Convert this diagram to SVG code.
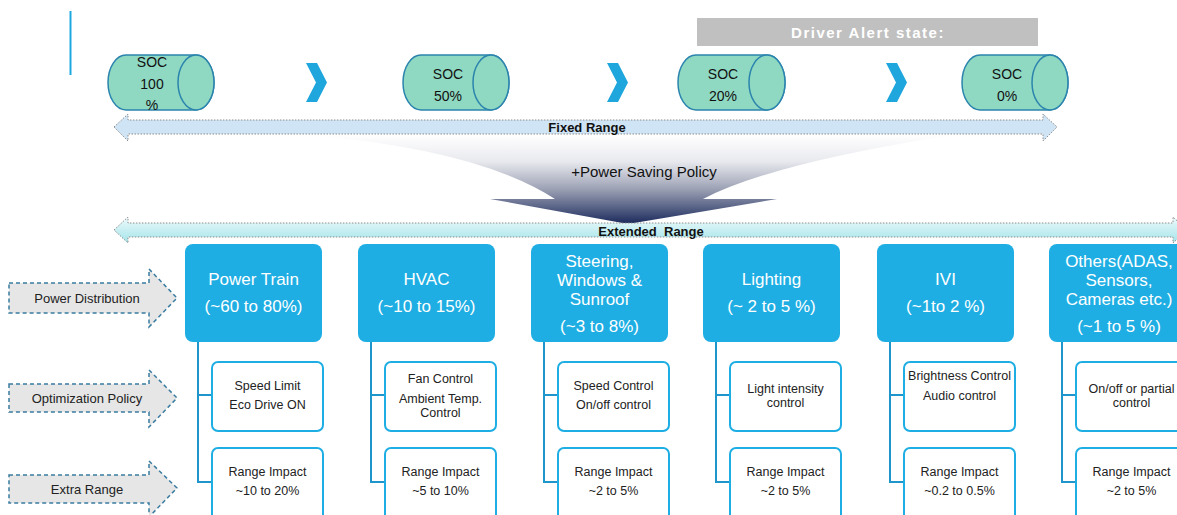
<svg xmlns="http://www.w3.org/2000/svg" width="1177" height="515" viewBox="0 0 1177 515">
<style>
.cyl{fill:#8fd8c2;stroke:#2b84ad;stroke-width:1.5}
.cylt{font-family:"Liberation Sans",Arial,sans-serif;font-size:14px;fill:#111;text-anchor:middle}
.chev{fill:#1fa6dd}
.main{fill:#1eaee3}
.maint{font-family:"Liberation Sans",Arial,sans-serif;font-size:17px;fill:#fff;text-anchor:middle}
.sub{fill:#fff;stroke:#1eaee3;stroke-width:2}
.subt{font-family:"Liberation Sans",Arial,sans-serif;font-size:12.5px;fill:#222;text-anchor:middle}
.conn{fill:none;stroke:#1e96cc;stroke-width:2}
.lab{fill:#e6e6e6;stroke:#3a7ca0;stroke-width:1.5;stroke-dasharray:4 3}
.labt{font-family:"Liberation Sans",Arial,sans-serif;font-size:13px;fill:#222;text-anchor:middle}
.rng{stroke:#8c8c8c;stroke-width:1;stroke-dasharray:1.5 1.5}
.rngt{font-family:"Liberation Sans",Arial,sans-serif;font-size:13px;font-weight:bold;fill:#111;text-anchor:middle}
</style>
<defs>
<linearGradient id="funnel" x1="0" y1="135" x2="0" y2="224" gradientUnits="userSpaceOnUse">
<stop offset="0" stop-color="#ffffff"/>
<stop offset="0.3" stop-color="#e8e9ee"/>
<stop offset="0.6" stop-color="#9ea3b6"/>
<stop offset="1" stop-color="#1b2a5c"/>
</linearGradient>
<linearGradient id="ext" x1="0" y1="0" x2="0" y2="1">
<stop offset="0" stop-color="#eefafb"/>
<stop offset="1" stop-color="#a2e4ea"/>
</linearGradient>
</defs>

<line x1="70.5" y1="11" x2="70.5" y2="75" stroke="#1ea8e0" stroke-width="2"/>

<g id="driver-alert">
<rect x="697" y="18" width="341" height="28" fill="#c0c0c0"/>
<text x="868" y="38" font-family="Liberation Sans,Arial,sans-serif" font-size="15" font-weight="bold" letter-spacing="1.5" fill="#fff" text-anchor="middle">Driver Alert state:</text>
</g>

<g id="soc100">
<path class="cyl" d="M126,55 H196 A18,27.5 0 0 1 196,110 H126 A18,27.5 0 0 1 126,55 Z"/>
<ellipse class="cyl" cx="196" cy="82.5" rx="18" ry="27.5"/>
<text class="cylt" x="152" y="67">SOC</text>
<text class="cylt" x="152" y="89">100</text>
<text class="cylt" x="152" y="110">%</text>
</g>
<g id="soc50">
<path class="cyl" d="M421,55 H491 A18,27.5 0 0 1 491,110 H421 A18,27.5 0 0 1 421,55 Z"/>
<ellipse class="cyl" cx="491" cy="82.5" rx="18" ry="27.5"/>
<text class="cylt" x="448" y="79">SOC</text>
<text class="cylt" x="448" y="101">50%</text>
</g>
<g id="soc20">
<path class="cyl" d="M696,55 H767 A18,27.5 0 0 1 767,110 H696 A18,27.5 0 0 1 696,55 Z"/>
<ellipse class="cyl" cx="767" cy="82.5" rx="18" ry="27.5"/>
<text class="cylt" x="723" y="79">SOC</text>
<text class="cylt" x="723" y="101">20%</text>
</g>
<g id="soc0">
<path class="cyl" d="M980,55 H1050 A18,27.5 0 0 1 1050,110 H980 A18,27.5 0 0 1 980,55 Z"/>
<ellipse class="cyl" cx="1050" cy="82.5" rx="18" ry="27.5"/>
<text class="cylt" x="1007" y="79">SOC</text>
<text class="cylt" x="1007" y="101">0%</text>
</g>

<g id="chevrons">
<polygon class="chev" points="306,63 317,63 327,82.5 317,102 306,102 316,82.5"/>
<polygon class="chev" points="607,63 618,63 628,82.5 618,102 607,102 617,82.5"/>
<polygon class="chev" points="886,63 897,63 907,82.5 897,102 886,102 896,82.5"/>
</g>

<g id="fixed-range">
<path class="rng" fill="#cfe4f4" d="M114,127 L128,114 V120 H1043 V114 L1057,127 L1043,141 V134 H128 V141 Z"/>
<text class="rngt" x="587" y="132">Fixed Range</text>
</g>

<g id="power-saving">
<path fill="url(#funnel)" d="M310,135 Q480,150 555,199 L490,199 L628,224 L777,199 L703,199 Q772,163 953,135 Z"/>
<text x="644" y="177" font-family="Liberation Sans,Arial,sans-serif" font-size="15" fill="#111" text-anchor="middle">+Power Saving Policy</text>
</g>

<g id="extended-range">
<path class="rng" fill="url(#ext)" d="M114,230 L128,217 V223 H1173 V217 L1187,230 L1173,243 V237 H128 V243 Z"/>
<text class="rngt" x="651" y="236" xml:space="preserve">Extended  Range</text>
</g>

<g id="label-power-distribution">
<path class="lab" d="M9,283 H149 V269 L177,298 L149,327 V313 H9 Z"/>
<text class="labt" x="87" y="303">Power Distribution</text>
</g>
<g id="label-optimization-policy">
<path class="lab" d="M9,384 H149 V370 L177,398 L149,427 V412 H9 Z"/>
<text class="labt" x="87" y="403">Optimization Policy</text>
</g>
<g id="label-extra-range">
<path class="lab" d="M9,475 H149 V461 L177,488 L149,517 V503 H9 Z"/>
<text class="labt" x="87" y="494">Extra Range</text>
</g>

<g id="connectors">
<path class="conn" d="M198,342 V482 H212 M198,395 H212"/>
<path class="conn" d="M371,342 V482 H385 M371,395 H385"/>
<path class="conn" d="M544,342 V482 H558 M544,395 H558"/>
<path class="conn" d="M716,342 V482 H730 M716,395 H730"/>
<path class="conn" d="M890,342 V482 H904 M890,395 H904"/>
<path class="conn" d="M1062,342 V482 H1076 M1062,395 H1076"/>
</g>

<g id="power-train">
<rect class="main" x="185" y="244" width="137" height="98" rx="8"/>
<text class="maint" x="253.5" y="285">Power Train</text>
<text class="maint" x="253.5" y="312">(~60 to 80%)</text>
</g>
<g id="power-train-policy">
<rect class="sub" x="212" y="362" width="111" height="69" rx="6"/>
<text class="subt" x="267.5" y="390">Speed Limit</text>
<text class="subt" x="267.5" y="409">Eco Drive ON</text>
</g>
<g id="power-train-range">
<rect class="sub" x="212" y="448" width="111" height="80" rx="6"/>
<text class="subt" x="267.5" y="476">Range Impact</text>
<text class="subt" x="267.5" y="495">~10 to 20%</text>
</g>

<g id="hvac">
<rect class="main" x="358" y="244" width="137" height="98" rx="8"/>
<text class="maint" x="426.5" y="285">HVAC</text>
<text class="maint" x="426.5" y="312">(~10 to 15%)</text>
</g>
<g id="hvac-policy">
<rect class="sub" x="385" y="362" width="111" height="69" rx="6"/>
<text class="subt" x="440.5" y="383">Fan Control</text>
<text class="subt" x="440.5" y="403">Ambient Temp.</text>
<text class="subt" x="440.5" y="417">Control</text>
</g>
<g id="hvac-range">
<rect class="sub" x="385" y="448" width="111" height="80" rx="6"/>
<text class="subt" x="440.5" y="476">Range Impact</text>
<text class="subt" x="440.5" y="495">~5 to 10%</text>
</g>

<g id="steering">
<rect class="main" x="531" y="244" width="137" height="98" rx="8"/>
<text class="maint" x="599.5" y="267">Steering,</text>
<text class="maint" x="599.5" y="286">Windows &amp;</text>
<text class="maint" x="599.5" y="305">Sunroof</text>
<text class="maint" x="599.5" y="332">(~3 to 8%)</text>
</g>
<g id="steering-policy">
<rect class="sub" x="558" y="362" width="111" height="69" rx="6"/>
<text class="subt" x="613.5" y="390">Speed Control</text>
<text class="subt" x="613.5" y="409">On/off control</text>
</g>
<g id="steering-range">
<rect class="sub" x="558" y="448" width="111" height="80" rx="6"/>
<text class="subt" x="613.5" y="476">Range Impact</text>
<text class="subt" x="613.5" y="495">~2 to 5%</text>
</g>

<g id="lighting">
<rect class="main" x="703" y="244" width="137" height="98" rx="8"/>
<text class="maint" x="771.5" y="285">Lighting</text>
<text class="maint" x="771.5" y="312">(~ 2 to 5 %)</text>
</g>
<g id="lighting-policy">
<rect class="sub" x="730" y="362" width="111" height="69" rx="6"/>
<text class="subt" x="785.5" y="393">Light intensity</text>
<text class="subt" x="785.5" y="407">control</text>
</g>
<g id="lighting-range">
<rect class="sub" x="730" y="448" width="111" height="80" rx="6"/>
<text class="subt" x="785.5" y="476">Range Impact</text>
<text class="subt" x="785.5" y="495">~2 to 5%</text>
</g>

<g id="ivi">
<rect class="main" x="877" y="244" width="137" height="98" rx="8"/>
<text class="maint" x="945.5" y="285">IVI</text>
<text class="maint" x="945.5" y="312">(~1to 2 %)</text>
</g>
<g id="ivi-policy">
<rect class="sub" x="904" y="362" width="111" height="69" rx="6"/>
<text class="subt" x="959.5" y="380">Brightness Control</text>
<text class="subt" x="959.5" y="400">Audio control</text>
</g>
<g id="ivi-range">
<rect class="sub" x="904" y="448" width="111" height="80" rx="6"/>
<text class="subt" x="959.5" y="476">Range Impact</text>
<text class="subt" x="959.5" y="495">~0.2 to 0.5%</text>
</g>

<g id="others">
<rect class="main" x="1049" y="244" width="137" height="98" rx="8"/>
<text class="maint" x="1119" y="267">Others(ADAS,</text>
<text class="maint" x="1119" y="286">Sensors,</text>
<text class="maint" x="1119" y="305">Cameras etc.)</text>
<text class="maint" x="1119" y="332">(~1 to 5 %)</text>
</g>
<g id="others-policy">
<rect class="sub" x="1076" y="362" width="111" height="69" rx="6"/>
<text class="subt" x="1131.5" y="393">On/off or partial</text>
<text class="subt" x="1131.5" y="407">control</text>
</g>
<g id="others-range">
<rect class="sub" x="1076" y="448" width="111" height="80" rx="6"/>
<text class="subt" x="1131.5" y="476">Range Impact</text>
<text class="subt" x="1131.5" y="495">~2 to 5%</text>
</g>
</svg>
